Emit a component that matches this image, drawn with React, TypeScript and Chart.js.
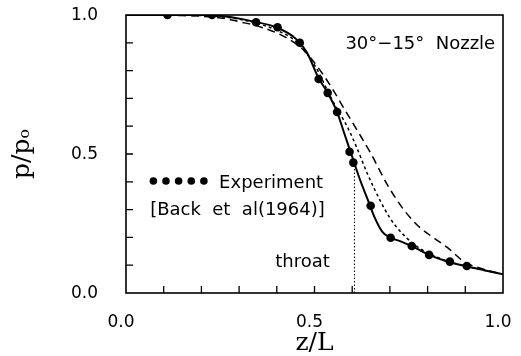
import React, { useEffect, useRef } from "react";
import { Chart, registerables } from "chart.js";
Chart.register(...registerables);

// Experiment (Back et al 1964)
const expZ = [0.11, 0.228, 0.345, 0.402, 0.461, 0.511, 0.535, 0.56, 0.593, 0.603, 0.649, 0.702, 0.758, 0.804, 0.859, 0.904];
const expP = [1.0, 1.0, 0.974, 0.956, 0.9, 0.77, 0.72, 0.651, 0.508, 0.469, 0.314, 0.199, 0.169, 0.137, 0.113, 0.097];

// Solid curve
const solidZ = [0, 0.1, 0.2, 0.28, 0.34, 0.4, 0.45, 0.48, 0.51, 0.535, 0.56, 0.58, 0.6, 0.62, 0.64, 0.66, 0.68, 0.7, 0.73, 0.76, 0.8, 0.85, 0.9, 0.95, 1.0];
const solidP = [1.0, 1.0, 1.0, 0.992, 0.976, 0.955, 0.915, 0.865, 0.775, 0.72, 0.651, 0.57, 0.49, 0.41, 0.34, 0.27, 0.22, 0.2, 0.185, 0.168, 0.14, 0.114, 0.097, 0.082, 0.067];

// Short-dash curve
const dotZ = [0, 0.2, 0.3, 0.4, 0.45, 0.5, 0.547, 0.59, 0.613, 0.64, 0.675, 0.7, 0.73, 0.764, 0.8, 0.85, 0.9, 0.95, 1.0];
const dotP = [1.0, 0.998, 0.985, 0.945, 0.905, 0.82, 0.694, 0.59, 0.52, 0.43, 0.33, 0.27, 0.218, 0.175, 0.145, 0.116, 0.097, 0.082, 0.067];

// Long-dash curve
const dashZ = [0, 0.15, 0.26, 0.3, 0.35, 0.42, 0.47, 0.51, 0.545, 0.58, 0.613, 0.649, 0.693, 0.737, 0.78, 0.82, 0.853, 0.9, 0.95, 1.0];
const dashP = [1.0, 0.998, 0.988, 0.976, 0.96, 0.922, 0.875, 0.81, 0.74, 0.66, 0.586, 0.503, 0.39, 0.299, 0.235, 0.195, 0.163, 0.11, 0.085, 0.067];

// Throat marker
const throatZ = [0.606, 0.606];
const throatP = [0.0, 0.47];

const xTickLabels = ["0.0", "0.5", "1.0"];
const yTickLabels = ["0.0", "0.5", "1.0"];
const minorTicks = [0.1, 0.2, 0.3, 0.4, 0.5, 0.6, 0.7, 0.8, 0.9];

const titleText = "30°−15°  Nozzle";
const legendLine1 = "Experiment";
const legendLine2 = "[Back  et  al(1964)]";
const throatText = "throat";

const pts = (zs: number[], ps: number[]) => zs.map((z, i) => ({ x: z, y: ps[i] }));

export default function App() {
  const ref = useRef<HTMLCanvasElement>(null);
  useEffect(() => {
    const annot = {
      id: "annot",
      afterDraw(chart: any) {
        const { ctx, chartArea: a, scales } = chart;
        const sx = scales.x, sy = scales.y;
        ctx.save();
        ctx.strokeStyle = "#000";
        ctx.lineWidth = 1.6;
        ctx.strokeRect(a.left, a.top, a.right - a.left, a.bottom - a.top);
        ctx.lineWidth = 1.3;
        ctx.beginPath();
        for (const v of minorTicks) {
          const px = sx.getPixelForValue(v);
          ctx.moveTo(px, a.bottom);
          ctx.lineTo(px, a.bottom - 7);
          const py = sy.getPixelForValue(v);
          ctx.moveTo(a.left, py);
          ctx.lineTo(a.left + 7, py);
        }
        ctx.stroke();
        ctx.fillStyle = "#000";
        ctx.font = "18px 'DejaVu Sans'";
        ctx.textBaseline = "alphabetic";
        ctx.textAlign = "left";
        ctx.fillText(titleText, sx.getPixelForValue(0.582), sy.getPixelForValue(0.878));
        // legend dots
        const dy = sy.getPixelForValue(0.403);
        for (let i = 0; i < 5; i++) {
          ctx.beginPath();
          ctx.arc(sx.getPixelForValue(0.0726 + i * 0.0335), dy, 3.8, 0, Math.PI * 2);
          ctx.fill();
        }
        ctx.fillText(legendLine1, sx.getPixelForValue(0.247), sy.getPixelForValue(0.378));
        ctx.fillText(legendLine2, sx.getPixelForValue(0.064), sy.getPixelForValue(0.281));
        ctx.fillText(throatText, sx.getPixelForValue(0.396), sy.getPixelForValue(0.095));
        ctx.restore();
      },
    };
    const tickFont = { family: "'DejaVu Sans'", size: 17 };
    const chart = new Chart(ref.current as HTMLCanvasElement, {
      type: "scatter",
      data: {
        datasets: [
          {
            data: pts(throatZ, throatP),
            showLine: true,
            borderColor: "#000",
            borderWidth: 1,
            borderDash: [1.5, 2],
            pointRadius: 0,
          },
          {
            data: pts(dashZ, dashP),
            showLine: true,
            borderColor: "#000",
            borderWidth: 1.5,
            borderDash: [8, 5],
            pointRadius: 0,
            cubicInterpolationMode: "monotone",
          },
          {
            data: pts(dotZ, dotP),
            showLine: true,
            borderColor: "#000",
            borderWidth: 1.5,
            borderDash: [3, 3],
            pointRadius: 0,
            cubicInterpolationMode: "monotone",
          },
          {
            data: pts(solidZ, solidP),
            showLine: true,
            borderColor: "#000",
            borderWidth: 2,
            pointRadius: 0,
            cubicInterpolationMode: "monotone",
          },
          {
            data: pts(expZ, expP),
            showLine: false,
            backgroundColor: "#000",
            borderColor: "#000",
            pointRadius: 4.3,
            pointBorderWidth: 0,
          },
        ],
      } as any,
      options: {
        animation: false,
        responsive: true,
        maintainAspectRatio: false,
        layout: { padding: { left: 0, right: 18, top: 15, bottom: 0 } },
        plugins: { legend: { display: false }, tooltip: { enabled: false } },
        scales: {
          x: {
            type: "linear",
            min: 0,
            max: 1,
            grid: { display: false },
            border: { display: false },
            ticks: {
              stepSize: 0.5,
              autoSkip: false,
              maxRotation: 0,
              padding: 11,
              labelOffset: -5,
              color: "#000",
              font: tickFont,
              callback: (v: any) => {
                const s = Number(v).toFixed(1);
                return xTickLabels.includes(s) ? s : "";
              },
            },
            title: {
              display: true,
              text: "z/L",
              color: "#000",
              font: { family: "'DejaVu Serif'", size: 25, lineHeight: 1 },
              padding: { top: 0, bottom: 0 },
            },
            afterFit: (s: any) => {
              s.height = 63;
              s.paddingLeft = 0;
              s.paddingRight = 0;
            },
          },
          y: {
            type: "linear",
            min: 0,
            max: 1,
            grid: { display: false },
            border: { display: false },
            ticks: {
              stepSize: 0.5,
              autoSkip: false,
              padding: 20,
              labelOffset: 1,
              color: "#000",
              font: tickFont,
              callback: (v: any) => {
                const s = Number(v).toFixed(1);
                return yTickLabels.includes(s) ? s : "";
              },
            },
            title: {
              display: true,
              text: "p/pₒ",
              color: "#000",
              font: { family: "'DejaVu Serif'", size: 25, lineHeight: 1 },
              padding: { top: 10, bottom: 0 },
            },
            afterFit: (s: any) => {
              s.width = 126;
              s.paddingTop = 0;
              s.paddingBottom = 0;
            },
          },
        },
      } as any,
      plugins: [annot],
    });
    return () => chart.destroy();
  }, []);
  return (
    <div style={{ position: "fixed", left: 0, top: 0, width: 521, height: 356, background: "#fff" }}>
      <canvas ref={ref} />
    </div>
  );
}
